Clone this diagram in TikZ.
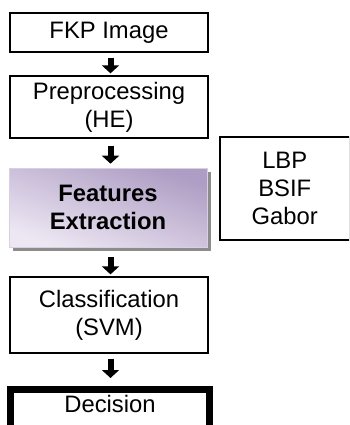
\documentclass[tikz,border=0pt]{standalone}
\usepackage{fontspec}
\setmainfont{Liberation Sans}
\usetikzlibrary{arrows.meta,shadows}

\definecolor{featTop}{HTML}{AE9DC4}
\definecolor{featBot}{HTML}{EDE7F3}
\definecolor{featEdge}{HTML}{D8CFE2}

\tikzset{
  stagebox/.style={draw=black, line width=1.3pt, fill=white, inner sep=0pt,
    align=center, font=\fontsize{23.8}{28}\selectfont},
  featbox/.style={draw=featEdge, line width=0.6pt, inner sep=0pt, align=center,
    font=\fontsize{23.8}{28}\selectfont\bfseries,
    shading=axis, top color=featTop, bottom color=featBot, shading angle=-20,
    drop shadow={shadow xshift=4pt, shadow yshift=-4pt, fill=black!45, opacity=1}},
  finalbox/.style={draw=black, line width=6.5pt, fill=white, inner sep=0pt},
  flowarrow/.style={line width=6pt, line cap=butt,
    -{Triangle[width=17pt,length=8pt]}},
  plaintext/.style={inner sep=0pt, font=\fontsize{23.8}{28}\selectfont}
}

\begin{document}
\begin{tikzpicture}[x=1pt, y=-1pt]
  \useasboundingbox (0,0) rectangle (349,425);
  \clip (0,0) rectangle (349,425);

  % main pipeline
  \node[stagebox, minimum width=198pt, minimum height=39pt] (fkp) at (109,32.5) {FKP Image};
  \node[stagebox, minimum width=198pt, minimum height=62pt] (pre) at (109,107) {Preprocessing\\(HE)};
  \node[featbox, minimum width=198pt, minimum height=79pt] (feat) at (108,207.5) {Features\\Extraction};
  \node[stagebox, minimum width=198pt, minimum height=76pt] (cls) at (109,315) {Classification\\(SVM)};
  \node[finalbox, minimum width=199pt, minimum height=60pt, anchor=north] (dec) at (110,386) {};
  \node[plaintext, anchor=base] (dect) at (110,412) {Decision};

  % feature descriptors
  \node[stagebox, minimum width=129.5pt, minimum height=103pt] (lbp) at (284.75,188.5) {LBP\\BSIF\\Gabor};

  % block arrows between stages
  \draw[flowarrow, shorten <=5pt, shorten >=2pt] ([xshift=1.5pt]fkp.south) -- ([xshift=1.5pt]pre.north);
  \draw[flowarrow, shorten <=7pt, shorten >=4pt] ([xshift=1.5pt]pre.south) -- ([xshift=2.5pt]feat.north);
  \draw[flowarrow, shorten <=10pt, shorten >=2pt] ([xshift=2.5pt]feat.south) -- ([xshift=1.5pt]cls.north);
  \draw[flowarrow, shorten <=5pt, shorten >=8pt] ([xshift=1.5pt]cls.south) -- ([xshift=0.5pt]dec.north);
\end{tikzpicture}
\end{document}
